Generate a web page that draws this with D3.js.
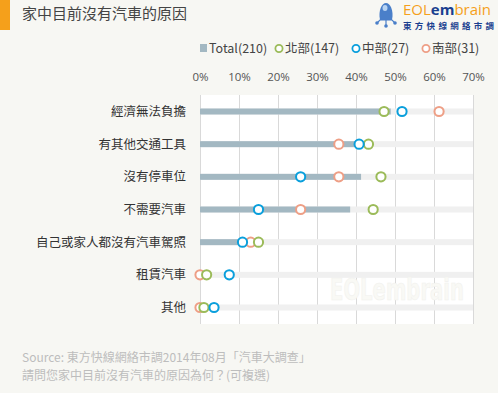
<!DOCTYPE html>
<html>
<meta charset="utf-8">
<style>
body {
  margin: 0;
  width: 498px;
  height: 393px;
  background: #f7f7f3;
  font-family: "Noto Sans CJK TC", "Open Sans", sans-serif;
}
svg { display: block; }
.axis path, .axis line { display: none; }
.axis text { fill: #555; font-size: 11.5px; font-family: "Open Sans", "Noto Sans CJK TC", sans-serif; }
.grid line { stroke: #d9d9d9; stroke-width: 1; }
.grid path { display: none; }
.rowlabel { fill: #333; font-size: 12.5px; text-anchor: end; }
.legend text { fill: #444; font-size: 12.5px; }
.foot { fill: #bdbdbd; font-size: 12px; }
</style>
<body>
<script src="https://cdn.jsdelivr.net/npm/d3@7"></script>
<script>
// data (percent)
var reasons = ["經濟無法負擔", "有其他交通工具", "沒有停車位", "不需要汽車", "自己或家人都沒有汽車駕照", "租賃汽車", "其他"];
var total   = [48.9, 40.5, 41.3, 38.5, 10.5, 0.8, 0.8];
var north   = [47.2, 43.2, 46.4, 44.4, 15.0, 1.7, 1.0];
var central = [51.8, 40.8, 25.8, 15.0, 10.9, 7.5, 3.6];
var south   = [61.3, 35.6, 35.6, 25.8, 13.0, 0.0, 0.0];
var ticks   = [0, 10, 20, 30, 40, 50, 60, 70];
var legendNames = ["Total(210)", "北部(147)", "中部(27)", "南部(31)"];

var colors = { total: "#a3b8c2", north: "#9bbb59", central: "#0a9fdc", south: "#ee9f86" };

var W = 498, H = 393;
var svg = d3.select("body").append("svg").attr("width", W).attr("height", H);

// header
svg.append("rect").attr("x", 0).attr("y", 0).attr("width", 10).attr("height", 30).attr("fill", "#f5a01b");
svg.append("text").attr("x", 22).attr("y", 19).attr("fill", "#444").style("font-size", "15px").text("家中目前沒有汽車的原因");

// logo
var logo = svg.append("g").attr("transform", "translate(386,0)");
logo.append("path").attr("d", "M-6,20 C-8,10 -4,3 0,3 C4,3 8,10 6,20 Z").attr("fill", "#4a7fc9");
logo.append("ellipse").attr("cx", -1).attr("cy", 8).attr("rx", 2.5).attr("ry", 3).attr("fill", "#b7d3f2");
logo.append("path").attr("d", "M-9,23 L-6,20 L6,20 L9,23 M0,20 L0,26").attr("stroke", "#4a7fc9").attr("stroke-width", 1.2).attr("fill", "none");
[[-9, 23], [0, 26], [9, 23]].forEach(function (p) {
  logo.append("circle").attr("cx", p[0]).attr("cy", p[1]).attr("r", 1.8).attr("fill", "#4a7fc9");
});
var lt = svg.append("text").attr("x", 403).attr("y", 15).style("font-size", "15px").style("font-family", "'Open Sans', sans-serif");
lt.append("tspan").attr("fill", "#f5a01b").text("EOL");
lt.append("tspan").attr("fill", "#1b3f8f").style("font-weight", "bold").text("em");
lt.append("tspan").attr("fill", "#f5a01b").text("brain");
svg.append("text").attr("x", 403).attr("y", 29).attr("fill", "#1b3f8f").style("font-size", "8.5px")
  .style("font-weight", "bold").style("letter-spacing", "3.3px").text("東方快線網絡市調");

// scales
var x = d3.scaleLinear().domain([0, 70]).range([200, 473]);
var y = d3.scalePoint().domain(reasons).range([111.5, 307.5]);

// plot background
svg.append("rect").attr("x", x(0)).attr("y", 95).attr("width", x(70) - x(0)).attr("height", 229).attr("fill", "#fff");

// grid
svg.append("g").attr("class", "grid").attr("transform", "translate(0,95)")
  .call(d3.axisBottom(x).tickValues(ticks).tickSize(229).tickFormat(""));

// tick labels
svg.append("g").attr("class", "axis").attr("transform", "translate(0,84)")
  .call(d3.axisTop(x).tickValues(ticks).tickSize(0).tickFormat(function (d) { return d + "%"; }));

// legend
var lg = svg.append("g").attr("class", "legend");
var lx = [200, 279, 356, 426];
lg.append("rect").attr("x", lx[0]).attr("y", 44).attr("width", 7).attr("height", 8).attr("fill", colors.total);
lg.append("text").attr("x", lx[0] + 9).attr("y", 52.5).text(legendNames[0]);
[colors.north, colors.central, colors.south].forEach(function (c, i) {
  lg.append("circle").attr("cx", lx[i + 1]).attr("cy", 48.5).attr("r", 3.6)
    .attr("fill", "#fff").attr("stroke", c).attr("stroke-width", 1.8);
  lg.append("text").attr("x", lx[i + 1] + 6).attr("y", 53).text(legendNames[i + 1]);
});

// rows
var rows = svg.append("g");
rows.selectAll(".bg").data(reasons).enter().append("rect")
  .attr("x", x(0)).attr("y", function (d) { return y(d) - 3; })
  .attr("width", x(70) - x(0)).attr("height", 6).attr("fill", "#f0f0f0");
rows.selectAll(".bar").data(total).enter().append("rect")
  .attr("x", x(0)).attr("y", function (d, i) { return y(reasons[i]) - 3; })
  .attr("width", function (d) { return x(d) - x(0); }).attr("height", 6).attr("fill", colors.total);

rows.selectAll(".rowlabel").data(reasons).enter().append("text")
  .attr("class", "rowlabel").attr("x", 186).attr("y", function (d) { return y(d) + 4.5; })
  .text(function (d) { return d; });

// faint watermark
svg.append("text").attr("x", 330).attr("y", 300)
  .attr("fill", "#f9f9f5").attr("stroke", "#f1f1ee").attr("stroke-width", 0.6)
  .style("font-size", "30px").style("font-weight", "bold")
  .style("font-family", "'Liberation Sans Narrow', 'DejaVu Sans Condensed', sans-serif")
  .attr("textLength", 134).attr("lengthAdjust", "spacingAndGlyphs").text("EOLembrain");

// dots: south first, then north, then central on top
[["south", south], ["north", north], ["central", central]].forEach(function (s) {
  rows.selectAll(".dot-" + s[0]).data(s[1]).enter().append("circle")
    .attr("cx", function (d) { return x(d); })
    .attr("cy", function (d, i) { return y(reasons[i]); })
    .attr("r", 4.6).attr("fill", "#fff").attr("stroke", colors[s[0]]).attr("stroke-width", 2);
});

// footer
svg.append("text").attr("class", "foot").attr("x", 22).attr("y", 362).text("Source: 東方快線網絡市調2014年08月「汽車大調查」");
svg.append("text").attr("class", "foot").attr("x", 22).attr("y", 380).text("請問您家中目前沒有汽車的原因為何？(可複選)");
</script>
</body>
</html>
